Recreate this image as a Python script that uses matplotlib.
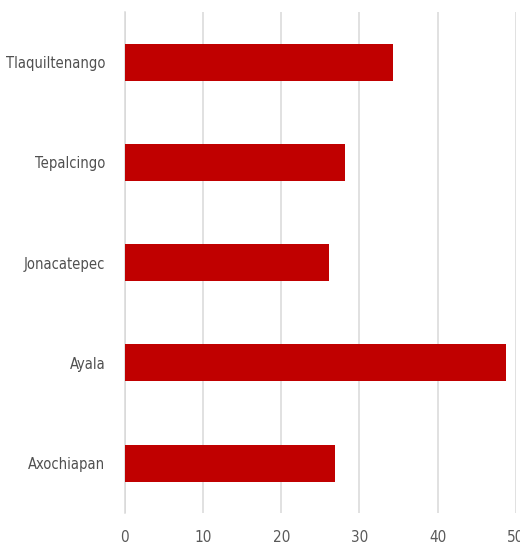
import matplotlib
matplotlib.use("Agg")
import matplotlib.pyplot as plt

# municipalities, bottom to top
municipios = ["Axochiapan", "Ayala", "Jonacatepec", "Tepalcingo", "Tlaquiltenango"]
valores = [26.9, 48.8, 26.1, 28.1, 34.3]
xticks = [0, 10, 20, 30, 40, 50]

plt.rcParams['font.family'] = ['DejaVu Sans']
plt.rcParams['font.stretch'] = 'condensed'

fig = plt.figure(figsize=(5.2, 5.5), dpi=100)
ax = fig.add_axes([0.240, 0.067, 0.752, 0.911])

ax.barh(municipios, valores, height=0.37, color="#C00000", zorder=3)

ax.set_xlim(0, 50)
ax.set_ylim(-0.5, 4.5)
ax.set_xticks(xticks)
ax.grid(axis="x", color="#D9D9D9", linewidth=1.1, zorder=0)

for s in ["top", "right", "bottom"]:
    ax.spines[s].set_visible(False)
ax.spines["left"].set_color("#D9D9D9")
ax.spines["left"].set_linewidth(1.1)

ax.tick_params(axis="x", length=0, pad=12, labelsize=11, labelcolor="#595959")
ax.tick_params(axis="y", length=0, pad=14, labelsize=10.5, labelcolor="#505050")

fig.savefig("out.png", dpi=100)
